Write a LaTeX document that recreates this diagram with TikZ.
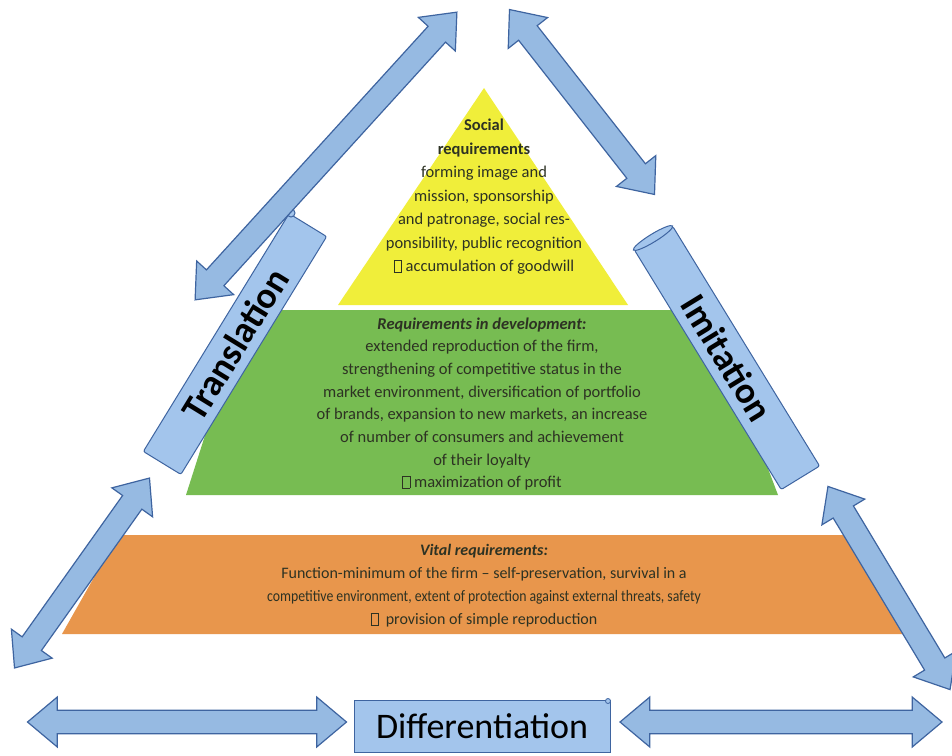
\documentclass[tikz,border=0pt]{standalone}
\usepackage{fontspec}
\setmainfont{Carlito}
\usetikzlibrary{shapes.arrows}
\definecolor{pyryellow}{RGB}{240,238,58}
\definecolor{pyrgreen}{RGB}{119,188,82}
\definecolor{pyrorange}{RGB}{232,150,76}
\definecolor{arrfill}{RGB}{150,186,226}
\definecolor{arrline}{RGB}{62,100,160}
\definecolor{scrfill}{RGB}{163,197,236}
\definecolor{txtdark}{RGB}{45,50,35}
\newcommand{\tofu}{{\setlength{\fboxsep}{0pt}\setlength{\fboxrule}{0.6pt}\fbox{\rule{0pt}{0.68em}\hspace{0.42em}}}}
\tikzset{
  barrow/.style={double arrow, draw=arrline, fill=arrfill, line width=1.2pt,
    inner xsep=0pt, inner ysep=11pt, minimum width=50pt, double arrow head extend=13pt,
    double arrow tip angle=80, double arrow head indent=0pt},
  scrollbox/.style={draw=arrline, fill=scrfill, line width=1pt, rounded corners=2pt,
    inner sep=0pt, font=\fontsize{37}{37}\selectfont\bfseries, text=black},
  pyrtext/.style={align=center, text=txtdark, inner sep=0pt}
}
\begin{document}
\begin{tikzpicture}[x=1pt,y=-1pt]
\path[use as bounding box, fill=white] (0,0) rectangle (952,755);

% pyramid layers
\fill[pyryellow] (484,88) -- (628,305) -- (338,305) -- cycle;
\fill[pyrgreen] (245,310) -- (708,310) -- (778,495) -- (186,495) -- cycle;
\fill[pyrorange] (118,535) -- (850,535) -- (906,634) -- (62,634) -- cycle;

\node[pyrtext, font=\fontsize{16.5}{23.5}\selectfont] (soc) at (484,197) {%
  \textbf{Social}\\ \textbf{requirements}\\ forming image and\\ mission, sponsorship\\
  and patronage, social res-\\ ponsibility, public recognition\\ \tofu\ accumulation of goodwill};

\node[pyrtext, font=\fontsize{16.5}{22.7}\selectfont] (dev) at (482,404) {%
  \textbf{\textit{Requirements in development:}}\\ extended reproduction of the firm,\\
  strengthening of competitive status in the\\ market environment, diversification of portfolio\\
  of brands, expansion to new markets, an increase\\ of number of consumers and achievement\\
  of their loyalty\\ \tofu\ maximization of profit};

\node[pyrtext, font=\fontsize{16}{23}\selectfont] (vit) at (484,586) {%
  \textbf{\textit{Vital requirements:}}\\ Function-minimum of the firm -- self-preservation, survival in a\\
  \scalebox{0.86}[1]{competitive environment, extent of protection against external threats, safety}\\
  \tofu\ \ provision of simple reproduction};

% scrolls
\node[scrollbox, rotate=58.5, minimum width=279pt, minimum height=44pt] (tr) at (235,344) {Translation};
\node[scrollbox, rotate=-58.5, minimum width=281pt, minimum height=45pt] (im) at (727,358) {Imitation};
\fill[scrfill, draw=arrline, line width=1pt] (291,213) circle (4pt);
\draw[arrline, line width=1pt, fill=scrfill, rotate around={-58.5:(653,238)}] (653,238) ellipse (4pt and 23pt);

% differentiation box
\node[draw=arrline, fill=scrfill, line width=1pt, minimum width=256pt, minimum height=52pt,
  inner sep=0pt, font=\fontsize{36}{36}\selectfont, text=black] (dif) at (482,726) {Differentiation};
\fill[scrfill, draw=arrline, line width=0.8pt] (608,701) circle (2.5pt);

% arrows
\node[barrow, rotate=47.7, minimum height=389pt] (a1) at (326,156) {};
\node[barrow, rotate=-51.9, minimum height=235pt] (a2) at (582,102) {};
\node[barrow, rotate=54.6, minimum height=233pt] (a3) at (82,573) {};
\node[barrow, rotate=-59, minimum height=237pt] (a4) at (889,588) {};
\node[barrow, minimum height=319pt] (a5) at (187,722) {};
\node[barrow, minimum height=322pt] (a6) at (781,722) {};
\end{tikzpicture}
\end{document}
